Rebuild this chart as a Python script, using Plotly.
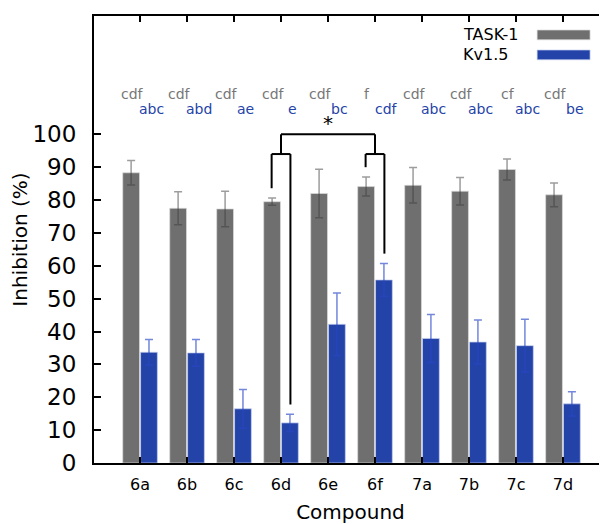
import plotly.graph_objects as go

compounds = ["6a", "6b", "6c", "6d", "6e", "6f", "7a", "7b", "7c", "7d"]
task1 = [88.3, 77.5, 77.3, 79.5, 82.0, 84.1, 84.5, 82.7, 89.3, 81.6]
task1_err = [3.7, 5.0, 5.4, 1.1, 7.4, 2.9, 5.4, 4.2, 3.2, 3.6]
kv15 = [33.7, 33.5, 16.5, 12.2, 42.2, 55.7, 37.9, 36.8, 35.7, 18.0]
kv15_err = [3.9, 4.1, 5.9, 2.6, 9.5, 5.0, 7.3, 6.7, 8.0, 3.7]
task1_letters = ["cdf", "cdf", "cdf", "cdf", "cdf", "f", "cdf", "cdf", "cf", "cdf"]
kv15_letters = ["abc", "abd", "ae", "e", "bc", "cdf", "abc", "abc", "abc", "be"]
y_ticks = [0, 10, 20, 30, 40, 50, 60, 70, 80, 90, 100]
series_names = ["TASK-1", "Kv1.5"]
# significance comparison: (compound index A, compound index B), bracket levels
sig_pair = (3, 5)
sig_inner_level = 94
sig_outer_level = 100
sig_label = "*"

GRAY = "#6f6f6f"
BLUE = "#2443a8"
FONT = "DejaVu Sans"

xs = list(range(len(compounds)))
OFF = 0.2  # half offset of grouped bars

fig = go.Figure()
fig.add_trace(go.Bar(
    x=xs, y=task1, name=series_names[0], marker=dict(color=GRAY, line=dict(color="rgba(220,220,220,0.7)", width=1)),
    error_y=dict(type="data", array=task1_err, color="rgba(60,60,60,0.5)", thickness=1.5, width=4),
    showlegend=False,
))
fig.add_trace(go.Bar(
    x=xs, y=kv15, name=series_names[1], marker=dict(color=BLUE, line=dict(color="rgba(200,210,240,0.7)", width=1)),
    error_y=dict(type="data", array=kv15_err, color="rgba(40,70,200,0.65)", thickness=1.5, width=4),
    showlegend=False,
))

# significance bracket built from the data
a, b = sig_pair
gap = 3
def leg_bottom(vals, errs, i):
    return vals[i] + errs[i] + gap

shapes = []
line = dict(color="black", width=2)
for i in (a, b):
    xl, xr = i - OFF, i + OFF
    yl = leg_bottom(task1, task1_err, i)
    yr = leg_bottom(kv15, kv15_err, i)
    shapes.append(dict(type="line", x0=xl, x1=xl, y0=yl, y1=sig_inner_level, xref="x", yref="y", line=line))
    shapes.append(dict(type="line", x0=xr, x1=xr, y0=yr, y1=sig_inner_level, xref="x", yref="y", line=line))
    shapes.append(dict(type="line", x0=xl, x1=xr, y0=sig_inner_level, y1=sig_inner_level, xref="x", yref="y", line=line))
    shapes.append(dict(type="line", x0=i, x1=i, y0=sig_inner_level, y1=sig_outer_level, xref="x", yref="y", line=line))
shapes.append(dict(type="line", x0=a, x1=b, y0=sig_outer_level, y1=sig_outer_level, xref="x", yref="y", line=line))

annotations = [dict(x=(a + b) / 2, y=sig_outer_level + 1, text=sig_label, showarrow=False,
                    xref="x", yref="y", yanchor="bottom", font=dict(family=FONT, size=20, color="black"), yshift=-6)]

for i, (t, k) in enumerate(zip(task1_letters, kv15_letters)):
    annotations.append(dict(x=i - 0.16, y=112.4, text=t, showarrow=False, xref="x", yref="y",
                            font=dict(family=FONT, size=14, color="#777777")))
    annotations.append(dict(x=i + 0.25, y=107.6, text=k, showarrow=False, xref="x", yref="y",
                            font=dict(family=FONT, size=14, color=BLUE)))

# manual legend (text left of swatch)
leg_y = [0.9577, 0.913]
for name, col, yy, lc in zip(series_names, [GRAY, BLUE], leg_y,
                             ["rgba(220,220,220,0.7)", "rgba(200,210,240,0.7)"]):
    annotations.append(dict(x=0.716, y=yy, xref="paper", yref="paper", text=name, showarrow=False,
                            xanchor="left", yanchor="middle", font=dict(family=FONT, size=16, color="black")))
    shapes.append(dict(type="rect", xref="paper", yref="paper", x0=0.8638, x1=0.967,
                       y0=yy - 0.011, y1=yy + 0.011, fillcolor=col, line=dict(color=lc, width=1)))

fig.update_layout(
    width=607, height=524,
    margin=dict(l=86, r=7, t=6, b=69),
    paper_bgcolor="white", plot_bgcolor="white",
    barmode="group", bargap=0.24, bargroupgap=0.06,
    font=dict(family=FONT, color="black"),
    shapes=shapes, annotations=annotations,
    xaxis=dict(
        range=[-0.98, 9.937], tickmode="array", tickvals=xs, ticktext=compounds,
        ticks="inside", ticklen=6, tickwidth=2, tickcolor="black",
        showline=True, linewidth=2, linecolor="black", mirror="ticks",
        showgrid=False, zeroline=False,
        tickfont=dict(family=FONT, size=16),
        ticklabelstandoff=6,
        title=dict(text="Compound", font=dict(family=FONT, size=20), standoff=12),
    ),
    yaxis=dict(
        range=[0, 136], tickmode="array", tickvals=y_ticks,
        ticks="inside", ticklen=7, tickwidth=2, tickcolor="black",
        showline=True, linewidth=2, linecolor="black", mirror="ticks",
        showgrid=False, zeroline=False,
        tickfont=dict(family=FONT, size=23),
        ticklabelstandoff=11,
        title=dict(text="Inhibition (%)", font=dict(family=FONT, size=20), standoff=4),
    ),
)

fig.write_html("out.html")
